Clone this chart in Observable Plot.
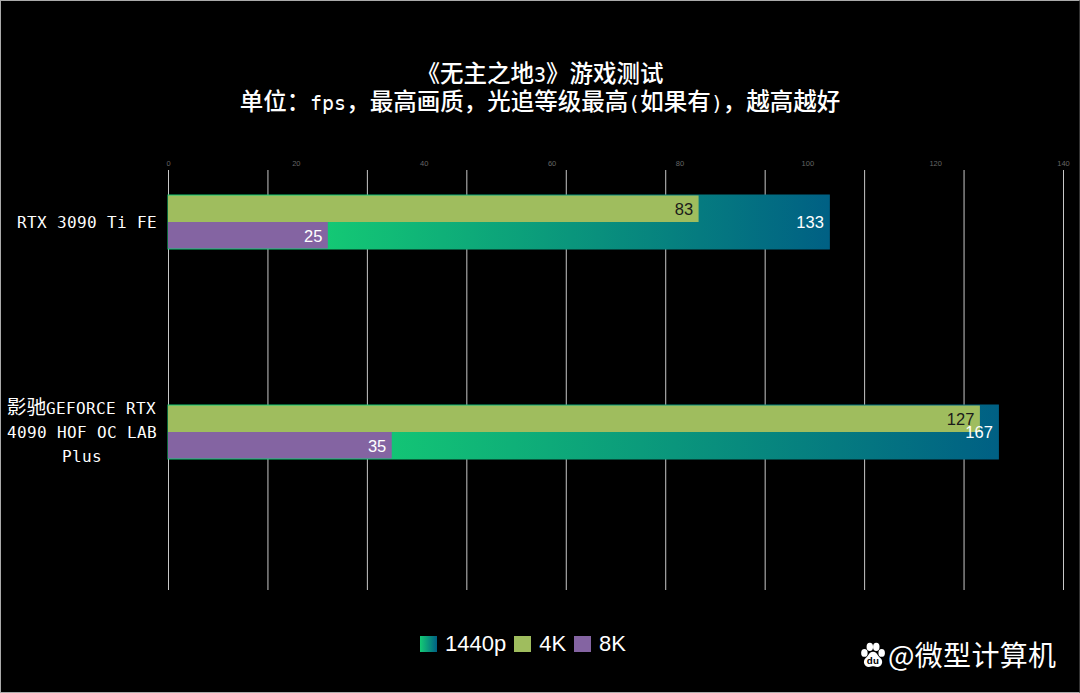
<!DOCTYPE html>
<html lang="zh">
<head>
<meta charset="utf-8">
<script src="https://cdn.jsdelivr.net/npm/d3@7"></script>
<script src="https://cdn.jsdelivr.net/npm/@observablehq/plot@0.6"></script>
<style>
  /* half width latin next to the CJK glyphs, like the original SimHei look */
  @font-face {
    font-family: "HalfMono";
    src: local("DejaVu Sans Mono");
    size-adjust: 83%;
    unicode-range: U+0020-007E;
  }
  html, body { margin: 0; background: #000; }
  #page {
    position: relative;
    width: 1080px;
    height: 693px;
    box-sizing: border-box;
    background: #000;
    color: #fff;
    overflow: hidden;
  }
  #page::after {
    content: "";
    position: absolute;
    inset: 0;
    border: 1px solid #aaa;
    border-right-color: #333;
    pointer-events: none;
  }
  #title {
    height: 68px;
    padding-top: 62px;
    text-align: center;
    font: 500 23.5px/28px "HalfMono", "Noto Sans CJK SC", sans-serif;
  }
  #chart svg { display: block; background: transparent; }
  #legend {
    position: absolute;
    left: 420px;
    top: 631px;
    display: flex;
    align-items: center;
    font: 22px/26px "Liberation Sans", sans-serif;
  }
  #legend i { display: inline-block; width: 17px; height: 16px; margin-right: 8px; }
  #legend span { margin-right: 8px; }
  #mark {
    position: absolute;
    left: 859px;
    top: 636px;
    display: flex;
    align-items: center;
    font: 28px/36px "Noto Sans CJK SC", sans-serif;
    letter-spacing: 0.3px;
  }
  #mark span { margin-left: 2px; }
</style>
</head>
<body>
<div id="page">
  <div id="title">《无主之地3》游戏测试<br>单位：fps，最高画质，光追等级最高(如果有)，越高越好</div>
  <div id="chart"></div>
  <div id="legend"></div>
  <div id="mark">
    <svg width="27" height="27" viewBox="0 0 25 25">
      <g fill="#fff">
        <ellipse cx="5" cy="11" rx="3" ry="3.6"/>
        <ellipse cx="10" cy="5.5" rx="3" ry="3.8"/>
        <ellipse cx="16" cy="5.5" rx="3" ry="3.8"/>
        <ellipse cx="21" cy="11" rx="3" ry="3.6"/>
        <path d="M13 10c4 0 4 4 7 6 3 3 1 8-3 8-2 0-3-.6-4-.6s-2 .6-4 .6c-4 0-6-5-3-8 3-2 3-6 7-6z"/>
      </g>
      <text x="13" y="21" text-anchor="middle" font-size="9" font-weight="700" font-family="Liberation Sans" fill="#000">du</text>
    </svg>
    <span>@微型计算机</span>
  </div>
</div>
<script>
const categories = ['RTX 3090 Ti FE', '影驰GEFORCE RTX\n4090 HOF OC LAB\nPlus'];
const seriesNames = ['1440p', '4K', '8K'];
const fps1440 = [133, 167];
const fps4k = [83, 127];
const fps8k = [25, 35];
const primaryTicks = [0, 20, 40, 60, 80, 100, 120, 140];
const secondaryTicks = [0, 20, 40, 60, 80, 100, 120, 140, 160, 180];

const colors = { '4K': '#9fbd5e', '8K': '#8464a2' };
const labelFont = '"Liberation Sans", sans-serif';
const categoryFont = '"HalfMono", "Noto Sans CJK SC", sans-serif';

// 1440p hangs on a hidden second axis running 0-180, the grid belongs to it
const toPrimary = (v) => (v * 140) / 180;

const rows = (values) => categories.map((c, i) => ({ category: c, value: values[i] }));

const gradient = () => {
  const svg = d3.create('svg:defs');
  const g = svg.append('linearGradient').attr('id', 'grad1440');
  g.append('stop').attr('offset', '22%').attr('stop-color', '#14cb74');
  g.append('stop').attr('offset', '100%').attr('stop-color', '#006084');
  return svg.node();
};

const categoryLabel = (label, dx) =>
  Plot.text([label], {
    x: () => 0,
    y: (d) => d,
    text: (d) => d,
    dx,
    dy: -2,
    textAnchor: 'middle',
    lineHeight: 1.2,
    fill: '#fff',
    fontSize: 19.7,
    fontFamily: categoryFont,
  });

const chart = Plot.plot({
  width: 1080,
  height: 480,
  marginLeft: 168,
  marginRight: 17,
  marginTop: 40,
  marginBottom: 20,
  style: { background: 'transparent', color: '#fff' },
  x: { domain: [0, 140], label: null },
  // each band is as tall as the gap between groups, bars sit in its middle
  y: { type: 'band', domain: categories, range: [-13, 407], padding: 0, axis: null },
  marks: [
    gradient,
    Plot.ruleX(secondaryTicks, { x: toPrimary, stroke: '#c8c8c8', strokeWidth: 1 }),
    Plot.axisX(primaryTicks, {
      anchor: 'top',
      tickSize: 0,
      tickPadding: 5,
      fontSize: 7.5,
      fill: '#666',
      fontFamily: labelFont,
      label: null,
    }),
    Plot.barX(rows(fps1440), {
      x: (d) => toPrimary(d.value),
      y: 'category',
      insetTop: 78,
      insetBottom: 78,
      fill: 'url(#grad1440)',
      stroke: 'url(#grad1440)',
      strokeWidth: 1,
    }),
    Plot.barX(rows(fps4k), {
      x: 'value',
      y: 'category',
      insetTop: 78.5,
      insetBottom: 105,
      fill: colors['4K'],
    }),
    Plot.barX(rows(fps8k), {
      x: 'value',
      y: 'category',
      insetTop: 105,
      insetBottom: 78.5,
      fill: colors['8K'],
    }),
    Plot.text(rows(fps1440), {
      x: (d) => toPrimary(d.value),
      y: 'category',
      text: 'value',
      dx: -6,
      textAnchor: 'end',
      fill: '#fff',
      fontSize: 16.5,
      fontFamily: labelFont,
    }),
    Plot.text(rows(fps4k), {
      x: 'value',
      y: 'category',
      text: 'value',
      dx: -6,
      dy: -13,
      textAnchor: 'end',
      fill: '#1a1a1a',
      fontSize: 16.5,
      fontFamily: labelFont,
    }),
    Plot.text(rows(fps8k), {
      x: 'value',
      y: 'category',
      text: 'value',
      dx: -6,
      dy: 14,
      textAnchor: 'end',
      fill: '#fff',
      fontSize: 16.5,
      fontFamily: labelFont,
    }),
    // the first label sits a little right of the second in the original
    categoryLabel(categories[0], -82),
    categoryLabel(categories[1], -87),
  ],
});
document.getElementById('chart').append(chart);

// legend swatches follow the series order
const legend = d3.select('#legend');
seriesNames.forEach((name) => {
  legend
    .append('i')
    .style('background', colors[name] || 'linear-gradient(90deg, #14cb74, #006084)');
  legend.append('span').text(name);
});
</script>
</body>
</html>
